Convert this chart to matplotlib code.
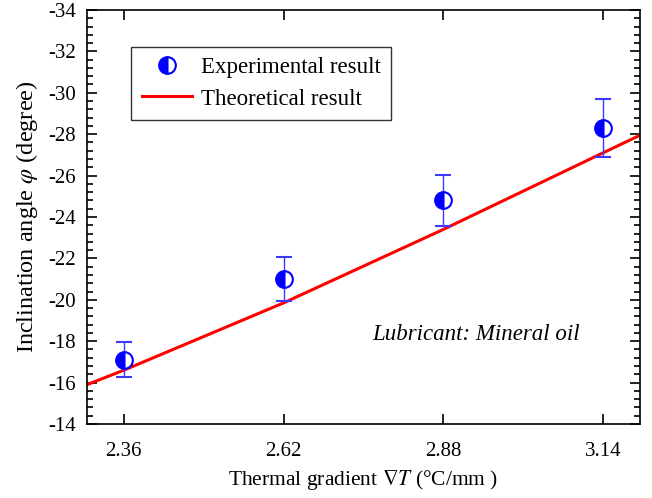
import matplotlib.pyplot as plt
from matplotlib.lines import Line2D
from matplotlib.ticker import MultipleLocator

plt.rcParams['font.family'] = ['Liberation Serif', 'DejaVu Serif']
plt.rcParams['mathtext.fontset'] = 'stix'
plt.rcParams['axes.unicode_minus'] = False

# experimental data
exp_x = [2.36, 2.62, 2.88, 3.14]
exp_y = [-17.1, -21.0, -24.8, -28.3]
exp_err = [0.85, 1.05, 1.25, 1.42]

# theoretical curve
theo_x = [2.30, 2.36, 2.62, 2.88, 3.14, 3.20]
theo_y = [-15.9, -16.6, -19.85, -23.4, -27.1, -27.95]

fig = plt.figure(figsize=(6.52, 4.98), dpi=100)
ax = fig.add_axes([0.1334, 0.1486, 0.8482, 0.8314])

mk = dict(marker='o', markersize=12, fillstyle='left', markerfacecolor='blue',
          markerfacecoloralt='white', markeredgecolor='blue', markeredgewidth=1.5)

ax.plot(theo_x, theo_y, color='red', lw=2.2, zorder=2)
ax.errorbar(exp_x, exp_y, yerr=exp_err, fmt='o', color='blue', ecolor='#3a3aff',
            elinewidth=1, capsize=6, capthick=1, zorder=3, **mk)

ax.set_xlim(2.30, 3.20)
ax.set_ylim(-14, -34)
ax.set_xticks(exp_x)
ax.set_xticklabels(['2.36', '2.62', '2.88', '3.14'])
ax.yaxis.set_major_locator(MultipleLocator(2))
ax.yaxis.set_minor_locator(MultipleLocator(0.4))
ax.tick_params(which='both', direction='in', top=True, right=True, labelsize=15, width=1.2)
ax.tick_params(which='major', length=7)
ax.tick_params(which='minor', length=4)
ax.tick_params(axis='x', pad=13)
ax.tick_params(axis='y', pad=8)
for s in ax.spines.values():
    s.set_linewidth(1.2)

ax.set_xlabel(r'Thermal gradient $\nabla T$ (°C/mm )', fontsize=15.5, labelpad=5)
ax.set_ylabel(r'Inclination angle $\varphi$ (degree)', fontsize=17.5, labelpad=6)

ax.text(2.765, -18.3, 'Lubricant: Mineral oil', fontsize=16.5, style='italic', va='center')

handles = [Line2D([], [], linestyle='none', **mk),
           Line2D([], [], color='red', lw=2.2)]
labels = ['Experimental result', 'Theoretical result']
leg = ax.legend(handles, labels, loc='upper left', bbox_to_anchor=(0.08, 0.911),
                fontsize=16.5, frameon=True, fancybox=False, edgecolor='black',
                handlelength=2.2, borderpad=0.45, labelspacing=0.45, handletextpad=0.4,
                borderaxespad=0)
leg.get_frame().set_linewidth(1.0)

fig.savefig('out.png', dpi=100)
